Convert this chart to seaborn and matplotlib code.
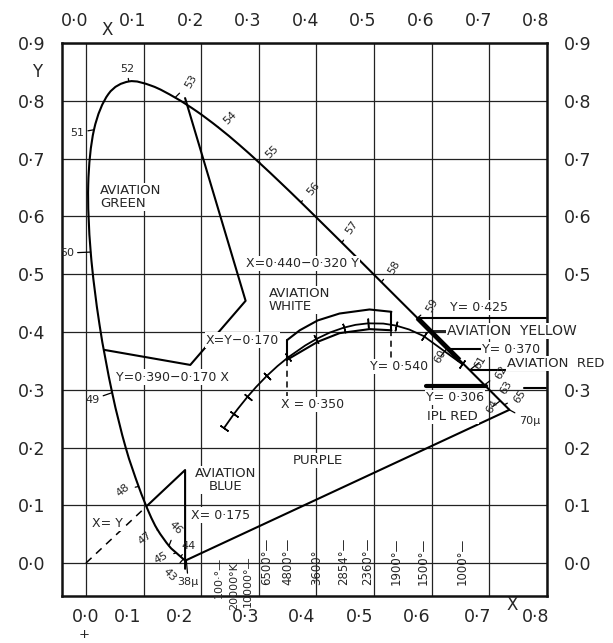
import numpy as np
import pandas as pd
import matplotlib
matplotlib.use("Agg")
import matplotlib.pyplot as plt
import matplotlib.transforms as mtrans
from matplotlib.path import Path
from matplotlib.patches import PathPatch
import seaborn as sns

# spectral locus (CIE 1931 chromaticity), wavelength in nm
wl = [380, 400, 420, 430, 440, 450, 460, 470, 475, 480, 485, 490, 495, 500,
      505, 510, 515, 520, 525, 530, 535, 540, 545, 550, 555, 560, 565, 570,
      575, 580, 585, 590, 595, 600, 605, 610, 620, 630, 640, 650, 700]
loc_x = [0.1741, 0.1733, 0.1714, 0.1689, 0.1644, 0.1566, 0.1440, 0.1241, 0.1096,
         0.0913, 0.0687, 0.0454, 0.0235, 0.0082, 0.0039, 0.0139, 0.0389, 0.0743,
         0.1142, 0.1547, 0.1929, 0.2296, 0.2658, 0.3016, 0.3373, 0.3731, 0.4087,
         0.4441, 0.4788, 0.5125, 0.5448, 0.5752, 0.6029, 0.6270, 0.6482, 0.6658,
         0.6915, 0.7079, 0.7190, 0.7260, 0.7347]
loc_y = [0.0050, 0.0048, 0.0051, 0.0069, 0.0109, 0.0177, 0.0297, 0.0578, 0.0868,
         0.1327, 0.2007, 0.2950, 0.4127, 0.5384, 0.6548, 0.7502, 0.8120, 0.8338,
         0.8262, 0.8059, 0.7816, 0.7543, 0.7243, 0.6923, 0.6589, 0.6245, 0.5896,
         0.5547, 0.5202, 0.4866, 0.4544, 0.4242, 0.3965, 0.3725, 0.3514, 0.3340,
         0.3083, 0.2920, 0.2809, 0.2740, 0.2653]
wl_labels = {380: "38μ", 430: "43", 440: "44", 450: "45", 460: "46", 470: "47",
             480: "48", 490: "49", 500: "50", 510: "51", 520: "52", 530: "53",
             540: "54", 550: "55", 560: "56", 570: "57", 580: "58", 590: "59",
             600: "60", 610: "61", 620: "62", 630: "63", 640: "64", 650: "65",
             700: "70μ"}

# black body (Planckian) locus
temp = ["inf", 20000, 15000, 10000, 8000, 6500, 5500, 4800, 4000, 3600, 3200,
        2854, 2600, 2360, 2100, 1900, 1700, 1500, 1000]
bb_x = [0.2399, 0.2564, 0.2637, 0.2807, 0.2952, 0.3135, 0.3323, 0.3509, 0.3805,
        0.3999, 0.4232, 0.4472, 0.4677, 0.4895, 0.5160, 0.5381, 0.5609, 0.5857, 0.6528]
bb_y = [0.2342, 0.2576, 0.2672, 0.2883, 0.3048, 0.3237, 0.3410, 0.3562, 0.3767,
        0.3880, 0.3991, 0.4075, 0.4124, 0.4150, 0.4146, 0.4111, 0.4043, 0.3931, 0.3444]
temp_marked = ["inf", 20000, 10000, 6500, 4800, 3600, 2854, 2360, 1900, 1500, 1000]
temp_text = {"inf": "100·°—", 20000: "20000°K", 10000: "10000°—", 6500: "6500°—",
             4800: "4800°—", 3600: "3600°—", 2854: "2854°—", 2360: "2360°—",
             1900: "1900°—", 1500: "1500°—", 1000: "1000°—"}

# aviation white band
white_top_x = [0.349, 0.371, 0.402, 0.440, 0.492, 0.530]
white_top_y = [0.386, 0.403, 0.420, 0.432, 0.439, 0.435]
white_bot_x = [0.349, 0.402, 0.440, 0.492, 0.530]
white_bot_y = [0.352, 0.383, 0.398, 0.405, 0.403]

# aviation green boundary
green_x = [0.032, 0.181, 0.277, 0.172]
green_y = [0.369, 0.343, 0.454, 0.805]

# aviation blue boundary
blue_dash_x = [0.0, 0.107]
blue_dash_y = [0.0, 0.100]
blue_x = [0.107, 0.172, 0.172]
blue_y = [0.100, 0.161, -0.010]

# yellow / red limits
y_yellow = 0.425
y_yellow_low = 0.370
y_red = 0.334
y_ipl = 0.306


def smooth_path(xs, ys):
    pts = np.column_stack([xs, ys])
    verts, codes = [pts[0]], [Path.MOVETO]
    n = len(pts)
    for i in range(n - 1):
        p0 = pts[max(i - 1, 0)]
        p1, p2 = pts[i], pts[i + 1]
        p3 = pts[min(i + 2, n - 1)]
        verts += [p1 + (p2 - p0) / 6, p2 - (p3 - p1) / 6, p2]
        codes += [Path.CURVE4] * 3
    return Path(verts, codes)


sns.set_style("white")
plt.rcParams['font.family'] = ['DejaVu Sans']

fig = plt.figure(figsize=(6.13, 6.43), dpi=100)
ax = fig.add_axes([62 / 613, 1 - 596 / 643, 485 / 613, 553 / 643])
ax.set_xlim(-0.0416, 0.798)
ax.set_ylim(-0.0571, 0.9004)

ticks = np.round(np.arange(0, 0.81, 0.1), 1)
yticks = np.round(np.arange(0, 0.91, 0.1), 1)
ax.set_xticks(ticks)
ax.set_xticklabels([f"{t:.1f}".replace(".", "·") for t in ticks])
ax.set_yticks(yticks)
ax.set_yticklabels([f"{t:.1f}".replace(".", "·") for t in yticks])
ax.tick_params(axis="x", length=0, labelsize=12.5, top=True, labeltop=True, pad=9)
ax.tick_params(axis="y", length=0, labelsize=12.5, right=True, labelright=True, pad=12)
ax.grid(True, color="#222222", lw=0.9)
for s in ax.spines.values():
    s.set_linewidth(1.8)
    s.set_color("#111111")
# right 0.4 label is covered by the yellow caption in the print
ax.yaxis.get_major_ticks()[4].label2.set_visible(False)

# shift tick labels like the print
bot_shift = [0, -16, -22, -13, -15, -14, -15, -12, -11]
for lab, d in zip(ax.xaxis.get_majorticklabels(), bot_shift):
    lab.set_transform(lab.get_transform() + mtrans.ScaledTranslation(d / 100, 0, fig.dpi_scale_trans))
for t in ax.xaxis.get_major_ticks():
    t.label2.set_transform(t.label2.get_transform() + mtrans.ScaledTranslation(-11 / 100, 0, fig.dpi_scale_trans))

lw = 1.5
locus = pd.DataFrame({"wl": wl, "x": loc_x, "y": loc_y})
ax.add_patch(PathPatch(smooth_path(loc_x, loc_y), fill=False, ec="k", lw=lw))
# line of purples
sns.lineplot(x=[loc_x[0], loc_x[-1]], y=[loc_y[0], loc_y[-1]], sort=False,
             estimator=None, color="k", lw=lw, ax=ax)
# thick yellow edge along the locus
yel = locus[(locus.wl >= 590) & (locus.wl <= 605)]
ax.plot(yel.x, yel.y, color="k", lw=3.5, solid_capstyle="butt")

# wavelength ticks and labels
lab_off = {380: (2, -22, 0), 430: (-14, -16, -45), 440: (8, 11, 0), 450: (-15, -5, 30),
           460: (7, 18, -45), 470: (-13, -8, 40), 480: (-16, -4, 40), 490: (-20, -7, 0),
           500: (-24, -1, 0), 510: (-17, -3, 0), 520: (-2, 12, 0), 530: (16, 16, 60),
           540: (12, 9, 45), 550: (12, 11, 45), 560: (12, 14, 50), 570: (10, 15, 55),
           580: (13, 15, 60), 590: (15, 13, 60), 600: (-7, -9, 60), 610: (10, 8, 60),
           620: (17, 13, 60), 630: (12, 7, 60), 640: (-8, -6, 60), 650: (15, 8, 55),
           700: (20, -11, 0)}
for w, lab in wl_labels.items():
    i = wl.index(w)
    dx, dy, rot = lab_off[w]
    ax.annotate(lab, xy=(loc_x[i], loc_y[i]), xytext=(dx, dy), textcoords="offset pixels",
                ha="center", va="center", rotation=rot, fontsize=8,
                arrowprops=dict(arrowstyle="-", lw=0.9, color="k", shrinkA=0.5, shrinkB=0))

# Planckian locus with cross ticks
sns.lineplot(x=bb_x, y=bb_y, sort=False, estimator=None, color="k", lw=1.3, ax=ax)
temp_pos = {"inf": (-0.010, -0.060, 8), 20000: (0.0, -0.082, 8), 10000: (0.0, -0.077, 8)}
for t in temp_marked:
    i = temp.index(t)
    j0, j1 = max(i - 1, 0), min(i + 1, len(temp) - 1)
    ang = np.degrees(np.arctan2(bb_y[j1] - bb_y[j0], bb_x[j1] - bb_x[j0]))
    ax.plot(bb_x[i], bb_y[i], marker=(2, 2, ang), ms=7, mew=1.1, color="k")
    dx, yb, fsz = temp_pos.get(t, (0.0, -0.038, 8.5))
    ax.text(bb_x[i] + dx, yb, temp_text[t], rotation=90, ha="center", va="bottom",
            fontsize=fsz, clip_on=False)

# aviation white
ax.plot(white_top_x, white_top_y, color="k", lw=lw)
ax.plot(white_bot_x, white_bot_y, color="k", lw=lw)
ax.plot([white_top_x[0], white_bot_x[0]], [white_top_y[0], white_bot_y[0]], color="k", lw=lw)
ax.plot([white_top_x[-1], white_bot_x[-1]], [white_top_y[-1], white_bot_y[-1]], color="k", lw=lw)
ax.plot([white_bot_x[0]] * 2, [white_bot_y[0], 0.29], color="k", lw=1.1, ls=(0, (4, 3)))
ax.plot([white_bot_x[-1]] * 2, [white_bot_y[-1], 0.355], color="k", lw=1.1, ls=(0, (4, 3)))

# aviation green
ax.plot(green_x, green_y, color="k", lw=lw)
# aviation blue
ax.plot(blue_dash_x, blue_dash_y, color="k", lw=1.1, ls=(0, (5, 4)))
ax.plot(blue_x, blue_y, color="k", lw=lw)

# yellow / red limits
ax.plot([0.575, 0.798], [y_yellow] * 2, color="k", lw=lw)
ax.plot([0.627, 0.687], [y_yellow_low] * 2, color="k", lw=lw)
ax.plot([0.598, 0.627], [0.402] * 2, color="k", lw=1.2)
ax.plot([0.668, 0.798], [y_red] * 2, color="k", lw=lw)
ax.plot([0.590, 0.694], [y_ipl] * 2, color="k", lw=3)
ax.plot([0.760, 0.798], [y_ipl - 0.003] * 2, color="k", lw=lw)

box = dict(facecolor="white", edgecolor="none", pad=0.8)
fs = 9.5
ax.text(0.024, 0.633, "AVIATION\nGREEN", fontsize=fs, ha="left", va="center",
        linespacing=1.0, bbox=box)
ax.text(0.317, 0.455, "AVIATION\nWHITE", fontsize=fs, ha="left", va="center",
        linespacing=1.0, bbox=box)
ax.text(0.242, 0.143, "AVIATION\nBLUE", fontsize=fs, ha="center", va="center",
        linespacing=1.0, bbox=box)
ax.text(0.402, 0.177, "PURPLE", fontsize=fs, ha="center", va="center", bbox=box)
ax.text(0.627, 0.402, "AVIATION  YELLOW", fontsize=fs + 0.5, ha="left", va="center",
        clip_on=False, bbox=box)
ax.text(0.731, 0.346, "AVIATION  RED", fontsize=fs, ha="left", va="center",
        clip_on=False, bbox=box)
ax.text(0.592, 0.253, "IPL RED", fontsize=fs, ha="left", va="center", bbox=box)

fe = 9
ax.text(0.376, 0.519, "X=0·440−0·320 Y", fontsize=fe, ha="center", va="center", bbox=box)
ax.text(0.272, 0.386, "X=Y−0·170", fontsize=fe, ha="center", va="center", bbox=box)
ax.text(0.151, 0.322, "Y=0·390−0·170 X", fontsize=fe, ha="center", va="center", bbox=box)
ax.text(0.393, 0.275, "X = 0·350", fontsize=fe, ha="center", va="center", bbox=box)
ax.text(0.544, 0.340, "Y= 0·540", fontsize=fe, ha="center", va="center", bbox=box)
ax.text(0.682, 0.443, "Y= 0·425", fontsize=fe, ha="center", va="center", bbox=box)
ax.text(0.688, 0.370, "Y= 0·370", fontsize=fe, ha="left", va="center", bbox=box)
ax.text(0.590, 0.286, "Y= 0·306", fontsize=fe, ha="left", va="center", bbox=box)
ax.text(0.182, 0.083, "X= 0·175", fontsize=fe, ha="left", va="center", bbox=box)
ax.text(0.010, 0.069, "X= Y", fontsize=fe, ha="left", va="center", bbox=box)

ax.set_xlabel("")
ax.set_ylabel("")
fig.text(107 / 613, 1 - 30 / 643, "X", fontsize=12, ha="center", va="center")
fig.text(512 / 613, 1 - 605 / 643, "X", fontsize=12, ha="center", va="center")
fig.text(37 / 613, 1 - 72 / 643, "Y", fontsize=12, ha="center", va="center")
fig.text(84 / 613, 1 - 635 / 643, "+", fontsize=9.5, ha="center", va="center")

fig.savefig("out.png", dpi=100)
